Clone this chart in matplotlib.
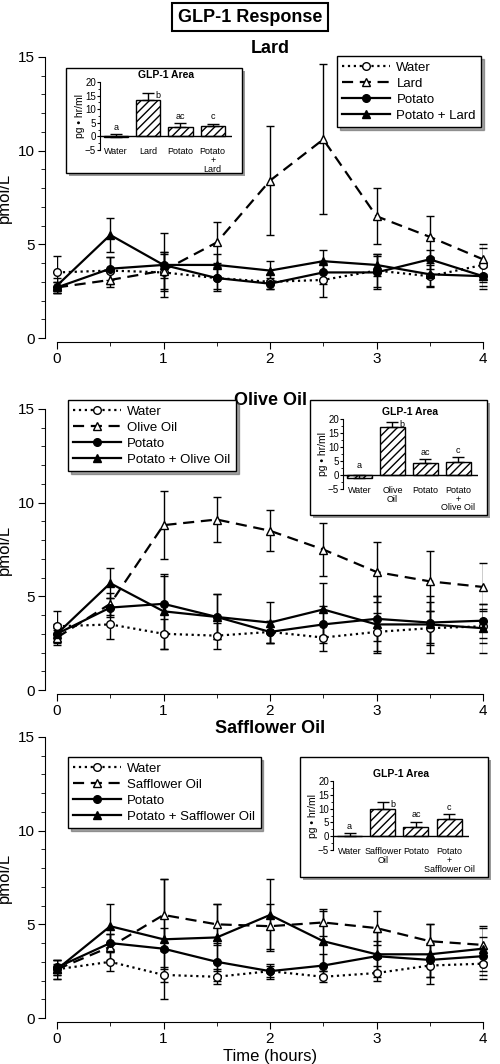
import numpy as np
import matplotlib.pyplot as plt
from matplotlib.patches import Rectangle

times = [0, 0.5, 1, 1.5, 2, 2.5, 3, 3.5, 4]

# Lard panel
lard_water = [3.5, 3.6, 3.5, 3.2, 3.0, 3.1, 3.6, 3.3, 3.9]
lard_water_err = [0.9, 0.7, 1.0, 0.6, 0.4, 0.9, 0.9, 0.6, 0.9]
lard_fat = [2.7, 3.1, 3.6, 5.1, 8.4, 10.6, 6.5, 5.4, 4.2]
lard_fat_err = [0.3, 0.4, 1.0, 1.1, 2.9, 4.0, 1.5, 1.1, 0.8]
lard_potato = [2.7, 3.7, 3.9, 3.2, 2.9, 3.5, 3.5, 4.2, 3.3]
lard_potato_err = [0.3, 0.6, 0.7, 0.7, 0.3, 0.6, 0.9, 0.5, 0.7]
lard_combo = [2.8, 5.5, 3.9, 3.9, 3.6, 4.1, 3.9, 3.4, 3.3]
lard_combo_err = [0.4, 0.9, 1.7, 0.6, 0.5, 0.6, 0.6, 0.6, 0.5]
lard_area = [-0.3, 13.5, 3.5, 3.9]
lard_area_err = [1.0, 2.5, 1.5, 0.8]

# Olive oil panel
olive_water = [3.4, 3.5, 3.0, 2.9, 3.1, 2.8, 3.1, 3.3, 3.4]
olive_water_err = [0.8, 0.8, 0.8, 0.7, 0.6, 0.7, 1.0, 0.9, 0.9]
olive_fat = [2.8, 4.6, 8.8, 9.1, 8.5, 7.5, 6.3, 5.8, 5.5]
olive_fat_err = [0.4, 0.6, 1.8, 1.2, 1.1, 1.4, 1.6, 1.6, 1.3]
olive_potato = [3.0, 4.4, 4.6, 3.9, 3.1, 3.5, 3.8, 3.6, 3.7]
olive_potato_err = [0.3, 0.5, 1.5, 1.2, 0.6, 1.0, 1.2, 1.1, 0.9]
olive_combo = [3.0, 5.7, 4.2, 3.9, 3.6, 4.3, 3.5, 3.5, 3.3]
olive_combo_err = [0.5, 0.8, 2.0, 1.2, 1.1, 1.4, 1.5, 1.5, 1.3]
olive_area = [-1.0, 17.0, 4.3, 4.5]
olive_area_err = [1.0, 2.0, 1.5, 2.0]

# Safflower oil panel
saff_water = [2.6, 3.0, 2.3, 2.2, 2.5, 2.2, 2.4, 2.8, 2.9]
saff_water_err = [0.3, 0.5, 0.4, 0.4, 0.3, 0.3, 0.4, 0.6, 0.8]
saff_fat = [2.6, 3.8, 5.5, 5.0, 4.9, 5.1, 4.8, 4.1, 3.9]
saff_fat_err = [0.5, 0.7, 1.9, 1.1, 1.2, 0.7, 0.9, 0.9, 0.9]
saff_potato = [2.7, 4.0, 3.7, 3.0, 2.5, 2.8, 3.3, 3.1, 3.3]
saff_potato_err = [0.4, 0.5, 1.1, 1.0, 0.4, 0.6, 0.8, 0.9, 1.0]
saff_combo = [2.6, 4.9, 4.2, 4.3, 5.5, 4.1, 3.4, 3.4, 3.7]
saff_combo_err = [0.5, 1.2, 3.2, 1.8, 1.9, 1.6, 1.2, 1.6, 1.2]
saff_area = [0.0, 9.8, 3.3, 6.2]
saff_area_err = [1.2, 2.5, 2.0, 1.7]

area_letters = ['a', 'b', 'ac', 'c']

W, H = 500, 1064
fig = plt.figure(figsize=(5, 10.64), dpi=100)
plt.rcParams['font.family'] = ['Liberation Sans', 'DejaVu Sans']


def px(x0, y0, x1, y1):
    # pixel box -> figure fraction rect
    return [x0 / W, 1 - y1 / H, (x1 - x0) / W, (y1 - y0) / H]


def panel(rect, name, series, leg_pos, box, inset_rect, area, area_err, xlabel=False):
    ax = fig.add_axes(rect)
    water, water_e, fat, fat_e, pot, pot_e, combo, combo_e = series
    kw = dict(color='black', lw=1.6, ms=5.5, capsize=3, elinewidth=1, capthick=1)
    ax.errorbar(times, water, yerr=water_e, ls=':', marker='o', mfc='white', label='Water', **kw)
    ax.errorbar(times, fat, yerr=fat_e, ls='--', dashes=(5, 3), marker='^', mfc='white', label=name, **kw)
    ax.errorbar(times, pot, yerr=pot_e, ls='-', marker='o', mfc='black', label='Potato', **kw)
    ax.errorbar(times, combo, yerr=combo_e, ls='-', marker='^', mfc='black', label='Potato + ' + name, **kw)
    ax.set_xlim(0, 4)
    ax.set_ylim(0, 15)
    ax.set_yticks([0, 5, 10, 15])
    ax.set_yticks(np.arange(0, 15.1, 1), minor=True)
    ax.set_xticks([0, 1, 2, 3, 4])
    ax.set_xticks(times, minor=True)
    ax.spines[['top', 'right']].set_visible(False)
    ax.spines['left'].set_position(('outward', 9))
    ax.spines['bottom'].set_position(('outward', 3))
    ax.tick_params(direction='out', labelsize=11, length=5, pad=2)
    ax.tick_params(which='minor', length=3)
    for ln in ax.lines:
        ln.set_clip_on(False)
    ax.set_ylabel('pmol/L', fontsize=12, labelpad=4)
    ax.text(0.5, 1.0, name, transform=ax.transAxes, ha='center', va='bottom',
            fontsize=13, fontweight='bold')
    if xlabel:
        ax.set_xlabel('Time (hours)', fontsize=12, labelpad=2)
    h, l = ax.get_legend_handles_labels()
    h = [x[0] for x in h]
    leg = fig.legend(h, l, loc='upper left', bbox_to_anchor=(leg_pos[0] / W, 1 - leg_pos[1] / H),
                     fontsize=9.5, handlelength=3.6, fancybox=False, shadow=True,
                     edgecolor='black', borderaxespad=0, labelspacing=0.3, handletextpad=0.5)
    leg.get_frame().set_linewidth(1)

    # inset box with shadow
    x0, y0, x1, y1 = box
    fig.patches.append(Rectangle(((x0 + 3) / W, 1 - (y1 + 3) / H), (x1 - x0) / W, (y1 - y0) / H,
                                 transform=fig.transFigure, facecolor='#999999', edgecolor='none', zorder=5))
    fig.patches.append(Rectangle((x0 / W, 1 - y1 / H), (x1 - x0) / W, (y1 - y0) / H,
                                 transform=fig.transFigure, facecolor='white', edgecolor='black', lw=1, zorder=6))
    ia = fig.add_axes(inset_rect, zorder=10)
    ia.patch.set_alpha(0)
    pos = np.arange(4)
    ia.bar(pos, area, width=0.75, yerr=[np.zeros(4), area_err], facecolor='white', edgecolor='black',
           hatch='////', lw=1, capsize=4, error_kw=dict(elinewidth=1, capthick=1))
    for i, (v, e, t) in enumerate(zip(area, area_err, area_letters)):
        top = max(v, 0) + e
        if t == 'b':
            ia.text(i + 0.3, top - 2.5, t, ha='center', va='bottom', fontsize=6.5)
        else:
            ia.text(i, top + 0.8, t, ha='center', va='bottom', fontsize=6.5)
    ia.axhline(0, color='black', lw=1)
    ia.set_ylim(-5, 20)
    ia.set_xlim(-0.5, 3.6)
    ia.set_yticks([-5, 0, 5, 10, 15, 20])
    ia.set_yticks(np.arange(-5, 20.1, 2.5), minor=True)
    ia.set_xticks([])
    for i, lab in enumerate(['Water', name.replace(' ', '\n'), 'Potato', 'Potato\n+\n' + name]):
        ia.text(i, -4.0, lab, ha='center', va='top', fontsize=6.5, linespacing=0.95)
    ia.spines[['top', 'right', 'bottom']].set_visible(False)
    ia.tick_params(labelsize=7, length=2, pad=1)
    ia.tick_params(which='minor', length=1.5)
    ia.set_ylabel('pg • hr/ml', fontsize=7.5, labelpad=0)
    ia.set_title('GLP-1 Area', fontsize=7.5, fontweight='bold', pad=3)
    return ax


panel(px(57, 57, 483, 338), 'Lard',
      [lard_water, lard_water_err, lard_fat, lard_fat_err, lard_potato, lard_potato_err, lard_combo, lard_combo_err],
      (337, 56), (66, 68, 242, 173), px(100, 82, 232, 150), lard_area, lard_area_err)
panel(px(57, 409, 483, 690), 'Olive Oil',
      [olive_water, olive_water_err, olive_fat, olive_fat_err, olive_potato, olive_potato_err, olive_combo, olive_combo_err],
      (68, 400), (310, 400, 487, 515), px(343, 419, 478, 489), olive_area, olive_area_err)
panel(px(57, 737, 483, 1018), 'Safflower Oil',
      [saff_water, saff_water_err, saff_fat, saff_fat_err, saff_potato, saff_potato_err, saff_combo, saff_combo_err],
      (68, 757), (300, 757, 488, 877), px(333, 781, 469, 850), saff_area, saff_area_err, xlabel=True)

fig.text(0.5, 1 - 17 / H, 'GLP-1 Response', ha='center', va='center', fontsize=13, fontweight='bold',
         bbox=dict(boxstyle='square,pad=0.3', facecolor='white', edgecolor='black', lw=1.5))

fig.savefig('out.png', dpi=100)
